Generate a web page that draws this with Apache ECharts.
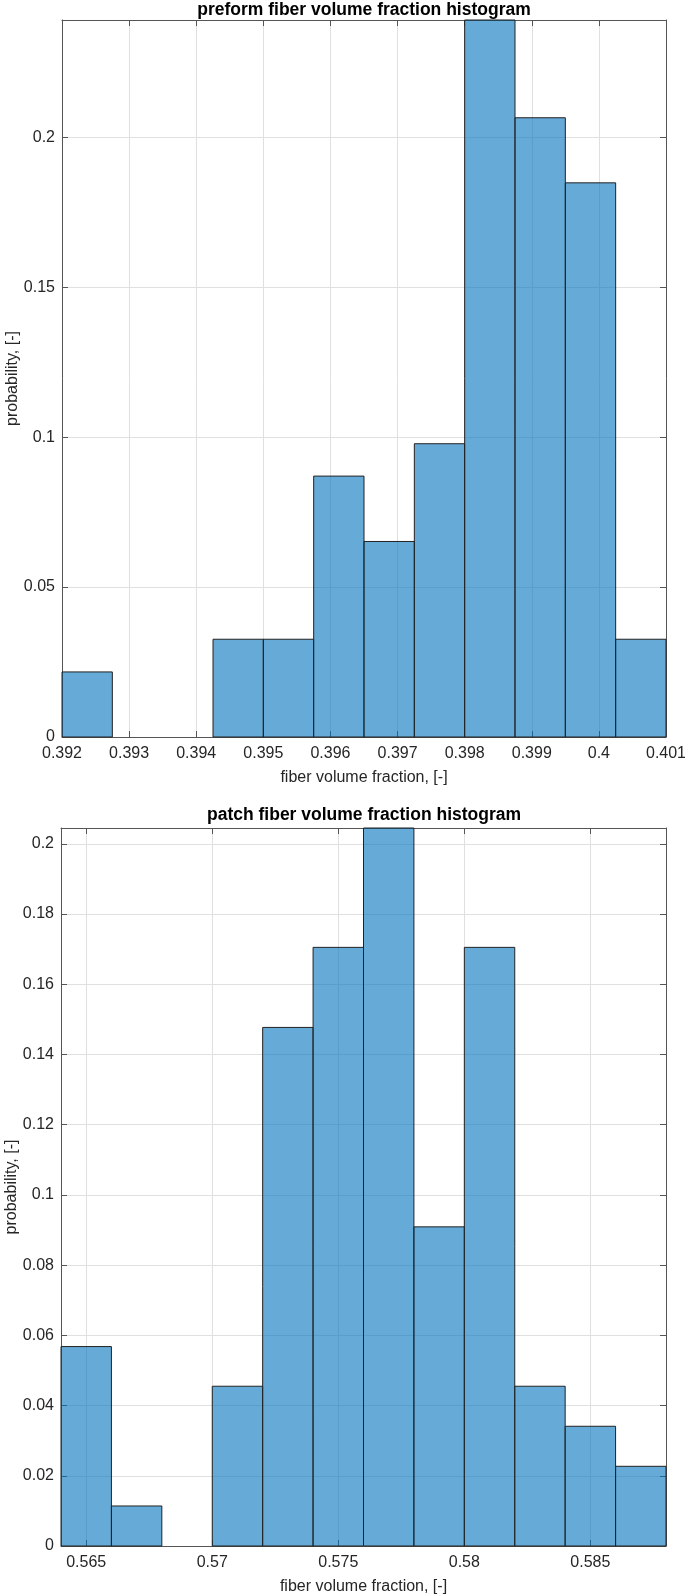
<!DOCTYPE html>
<html>
<head>
<meta charset="utf-8">
<script src="https://cdn.jsdelivr.net/npm/echarts@6/dist/echarts.min.js"></script>
<style>
html,body{margin:0;padding:0;background:#fff;}
#chart{width:685px;height:1596px;}
</style>
</head>
<body>
<div id="chart"></div>
<script>
// ---- data ----
var titleTop = 'preform fiber volume fraction histogram';
var titleBottom = 'patch fiber volume fraction histogram';
var xName = 'fiber volume fraction, [-]';
var yName = 'probability, [-]';

var binEdgesTop = [0.392, 0.39275, 0.3935, 0.39425, 0.395, 0.39575, 0.3965, 0.39725, 0.398, 0.39875, 0.3995, 0.40025, 0.401];
var probTop = [0.0217, 0, 0, 0.0326, 0.0326, 0.0870, 0.0652, 0.0978, 0.2391, 0.2065, 0.1848, 0.0326];
var xTicksTop = [0.392, 0.393, 0.394, 0.395, 0.396, 0.397, 0.398, 0.399, 0.4, 0.401];
var yTicksTop = [0, 0.05, 0.1, 0.15, 0.2];
var yMaxTop = 0.2391;

var binEdgesBottom = [0.564, 0.566, 0.568, 0.570, 0.572, 0.574, 0.576, 0.578, 0.580, 0.582, 0.584, 0.586, 0.588];
var probBottom = [0.0568, 0.0114, 0, 0.0455, 0.1477, 0.1705, 0.2045, 0.0909, 0.1705, 0.0455, 0.0341, 0.0227];
var xTicksBottom = [0.565, 0.57, 0.575, 0.58, 0.585];
var yTicksBottom = [0, 0.02, 0.04, 0.06, 0.08, 0.1, 0.12, 0.14, 0.16, 0.18, 0.2];
var yMaxBottom = 0.2045;

function binRows(edges, probs) {
  var rows = [];
  for (var i = 0; i < probs.length; i++) rows.push([edges[i], edges[i + 1], probs[i]]);
  return rows;
}

var FONT = "'Liberation Sans', Arial, Helvetica, sans-serif";
var TXT = '#262626';
var AXC = '#555555';
var GRIDC = '#e0e0e0';

function fmt(v) { return String(+v.toFixed(6)); }

function xAxisMain(gi, min, max, ticks) {
  return {
    type: 'value', gridIndex: gi, min: min, max: max, position: 'bottom',
    name: xName, nameLocation: 'middle', nameGap: 33, nameMoveOverlap: false,
    nameTextStyle: { fontFamily: FONT, fontSize: 16, color: TXT },
    axisLine: { show: true, onZero: false, lineStyle: { color: AXC, width: 1 } },
    axisTick: { show: true, inside: true, length: 6, customValues: ticks, lineStyle: { color: AXC } },
    axisLabel: { show: true, customValues: ticks, margin: 9, fontFamily: FONT, fontSize: 16, color: TXT, formatter: fmt, showMinLabel: true, showMaxLabel: true, hideOverlap: false },
    splitLine: { show: true, lineStyle: { color: GRIDC, width: 1 } }
  };
}
function xAxisTop(gi, min, max, ticks) {
  return {
    type: 'value', gridIndex: gi, min: min, max: max, position: 'top',
    axisLine: { show: true, onZero: false, lineStyle: { color: AXC, width: 1 } },
    axisTick: { show: true, inside: true, length: 6, customValues: ticks, lineStyle: { color: AXC } },
    axisLabel: { show: false },
    splitLine: { show: false }
  };
}
function yAxisMain(gi, max, ticks) {
  return {
    type: 'value', gridIndex: gi, min: 0, max: max, position: 'left',
    name: yName, nameLocation: 'middle', nameGap: 41, nameMoveOverlap: false,
    nameTextStyle: { fontFamily: FONT, fontSize: 16, color: TXT },
    axisLine: { show: true, onZero: false, lineStyle: { color: AXC, width: 1 } },
    axisTick: { show: true, inside: true, length: 6, customValues: ticks, lineStyle: { color: AXC } },
    axisLabel: { show: true, customValues: ticks, margin: 7, fontFamily: FONT, fontSize: 16, color: TXT, formatter: fmt },
    splitLine: { show: true, lineStyle: { color: GRIDC, width: 1 } }
  };
}
function yAxisRight(gi, max, ticks) {
  return {
    type: 'value', gridIndex: gi, min: 0, max: max, position: 'right',
    axisLine: { show: true, onZero: false, lineStyle: { color: AXC, width: 1 } },
    axisTick: { show: true, inside: true, length: 6, customValues: ticks, lineStyle: { color: AXC } },
    axisLabel: { show: false },
    splitLine: { show: false }
  };
}

function renderBin(params, api) {
  var x0 = api.value(0), x1 = api.value(1), y = api.value(2);
  if (!(y > 0)) return null;
  var p0 = api.coord([x0, y]);
  var p1 = api.coord([x1, 0]);
  return {
    type: 'rect',
    shape: { x: p0[0], y: p0[1], width: p1[0] - p0[0], height: p1[1] - p0[1] },
    style: { fill: 'rgba(0,114,189,0.6)', stroke: '#222', lineWidth: 1 }
  };
}

var chart = echarts.init(document.getElementById('chart'), null, { renderer: 'canvas' });
chart.setOption({
  animation: false,
  backgroundColor: '#fff',
  title: [
    { text: titleTop, left: 364, top: 1, padding: 0, textAlign: 'center',
      textStyle: { fontFamily: FONT, fontSize: 17.5, fontWeight: 'bold', color: '#000' } },
    { text: titleBottom, left: 364, top: 806, padding: 0, textAlign: 'center',
      textStyle: { fontFamily: FONT, fontSize: 17.5, fontWeight: 'bold', color: '#000' } }
  ],
  grid: [
    { left: 62, top: 20, width: 604, height: 717, containLabel: false, outerBoundsMode: 'none' },
    { left: 61, top: 828, width: 605, height: 718, containLabel: false, outerBoundsMode: 'none' }
  ],
  xAxis: [
    xAxisMain(0, binEdgesTop[0], binEdgesTop[binEdgesTop.length - 1], xTicksTop),
    xAxisTop(0, binEdgesTop[0], binEdgesTop[binEdgesTop.length - 1], xTicksTop),
    xAxisMain(1, binEdgesBottom[0], binEdgesBottom[binEdgesBottom.length - 1], xTicksBottom),
    xAxisTop(1, binEdgesBottom[0], binEdgesBottom[binEdgesBottom.length - 1], xTicksBottom)
  ],
  yAxis: [
    yAxisMain(0, yMaxTop, yTicksTop),
    yAxisRight(0, yMaxTop, yTicksTop),
    yAxisMain(1, yMaxBottom, yTicksBottom),
    yAxisRight(1, yMaxBottom, yTicksBottom)
  ],
  series: [
    { type: 'custom', xAxisIndex: 0, yAxisIndex: 0, renderItem: renderBin,
      encode: { x: [0, 1], y: 2 }, data: binRows(binEdgesTop, probTop), clip: false },
    { type: 'custom', xAxisIndex: 2, yAxisIndex: 2, renderItem: renderBin,
      encode: { x: [0, 1], y: 2 }, data: binRows(binEdgesBottom, probBottom), clip: false }
  ]
});
</script>
</body>
</html>
